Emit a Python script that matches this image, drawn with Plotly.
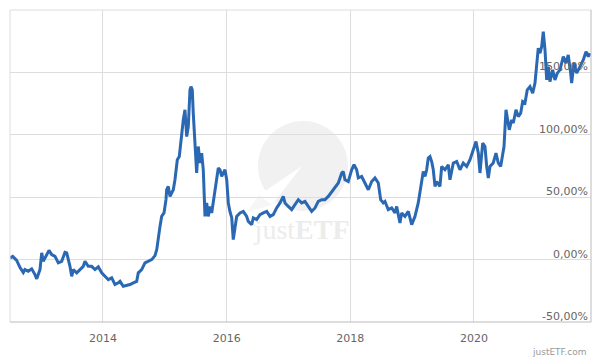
import plotly.graph_objects as go

# decimal years
years = [
    2012.496, 2012.540, 2012.604, 2012.658, 2012.711, 2012.738, 2012.792, 2012.847, 2012.900, 2012.928,
    2012.981, 2013.009, 2013.034, 2013.089, 2013.127, 2013.170, 2013.224, 2013.277, 2013.332, 2013.385,
    2013.413, 2013.466, 2013.494, 2013.520, 2013.575, 2013.628, 2013.681, 2013.709, 2013.762, 2013.817,
    2013.871, 2013.924, 2013.979, 2014.032, 2014.086, 2014.141, 2014.194, 2014.247, 2014.275, 2014.328,
    2014.383, 2014.437, 2014.490, 2014.545, 2014.571, 2014.626, 2014.679, 2014.733, 2014.788, 2014.841,
    2014.869, 2014.922, 2014.949, 2014.987, 2015.019, 2015.030, 2015.056, 2015.084, 2015.111, 2015.137,
    2015.164, 2015.202, 2015.234, 2015.273, 2015.299, 2015.326, 2015.354, 2015.380, 2015.407, 2015.423,
    2015.444, 2015.460, 2015.488, 2015.515, 2015.541, 2015.569, 2015.596, 2015.622, 2015.650, 2015.677,
    2015.703, 2015.731, 2015.758, 2015.784, 2015.811, 2015.839, 2015.865, 2015.892, 2015.920, 2015.946,
    2015.973, 2016.001, 2016.027, 2016.054, 2016.082, 2016.107, 2016.135, 2016.162, 2016.216, 2016.269,
    2016.324, 2016.350, 2016.405, 2016.431, 2016.486, 2016.539, 2016.593, 2016.648, 2016.701, 2016.754,
    2016.809, 2016.863, 2016.916, 2016.944, 2016.997, 2017.052, 2017.105, 2017.159, 2017.214, 2017.267,
    2017.320, 2017.375, 2017.429, 2017.482, 2017.537, 2017.590, 2017.644, 2017.699, 2017.752, 2017.806,
    2017.861, 2017.886, 2017.914, 2017.967, 2018.022, 2018.060, 2018.103, 2018.129, 2018.184, 2018.237,
    2018.291, 2018.346, 2018.399, 2018.453, 2018.491, 2018.533, 2018.561, 2018.614, 2018.669, 2018.723,
    2018.750, 2018.803, 2018.831, 2018.884, 2018.938, 2018.993, 2019.046, 2019.099, 2019.154, 2019.180,
    2019.208, 2019.235, 2019.261, 2019.289, 2019.316, 2019.342, 2019.370, 2019.397, 2019.450, 2019.478,
    2019.531, 2019.585, 2019.612, 2019.666, 2019.721, 2019.774, 2019.827, 2019.882, 2019.936, 2019.989,
    2020.033, 2020.070, 2020.097, 2020.141, 2020.178, 2020.206, 2020.232, 2020.259, 2020.312, 2020.356,
    2020.393, 2020.432, 2020.464, 2020.486, 2020.518, 2020.539, 2020.571, 2020.610, 2020.636, 2020.680,
    2020.717, 2020.756, 2020.788, 2020.825, 2020.862, 2020.906, 2020.950, 2020.987, 2021.014, 2021.040,
    2021.068, 2021.095, 2021.121, 2021.149, 2021.176, 2021.202, 2021.229, 2021.273, 2021.310, 2021.348,
    2021.391, 2021.445, 2021.488, 2021.525, 2021.564, 2021.580, 2021.618, 2021.661, 2021.715, 2021.768,
    2021.812, 2021.849, 2021.876,
]

# cumulative performance in percent
performance = [
    1.4, 2.6, -0.6, -6.4, -10.4, -8.0, -9.4, -7.4, -12.0, -15.4,
    -8.0, 5.4, -1.4, 4.0, 7.4, 4.0, 2.6, -2.6, -1.4, 5.8,
    5.4, -5.4, -13.4, -8.0, -10.6, -8.0, -5.4, -1.4, -5.4, -5.4,
    -8.0, -5.8, -10.6, -13.4, -16.0, -14.6, -20.0, -18.6, -17.4, -21.4,
    -20.8, -20.0, -18.6, -17.4, -10.6, -8.0, -2.6, -1.4, 0.0, 3.2,
    8.0, 26.6, 34.6, 37.4, 48.0, 56.0, 58.6, 50.6, 53.4, 56.0,
    64.0, 80.0, 82.6, 104.0, 112.0, 120.0, 98.6, 106.6, 136.0, 138.6,
    136.0, 117.4, 96.0, 69.4, 90.6, 77.4, 85.4, 72.0, 34.6, 45.4,
    34.6, 42.6, 37.4, 45.4, 56.0, 64.0, 73.4, 72.0, 66.6, 69.4,
    72.0, 64.0, 45.4, 38.4, 33.6, 16.0, 26.6, 34.6, 37.4, 38.6,
    34.6, 30.6, 28.0, 33.4, 32.0, 36.0, 37.4, 38.6, 34.6, 36.0,
    41.4, 45.4, 50.6, 45.4, 42.6, 40.0, 44.0, 48.0, 45.4, 46.6,
    42.6, 38.6, 41.4, 46.6, 48.0, 48.0, 50.6, 54.6, 57.4, 61.4,
    69.4, 70.6, 64.0, 62.6, 72.0, 76.0, 72.0, 65.4, 66.6, 61.4,
    56.0, 62.6, 65.4, 61.4, 48.0, 45.4, 46.6, 40.0, 41.4, 37.4,
    42.6, 29.4, 37.4, 34.6, 38.6, 28.0, 34.6, 45.4, 61.4, 70.6,
    66.6, 72.0, 81.4, 82.6, 78.6, 72.0, 58.6, 62.6, 58.6, 74.6,
    72.0, 76.0, 64.0, 77.4, 78.6, 72.0, 77.4, 74.6, 80.0, 88.0,
    94.6, 85.4, 69.4, 93.4, 90.6, 74.6, 65.4, 74.6, 77.4, 85.4,
    77.4, 74.6, 82.6, 90.6, 120.0, 112.0, 104.0, 112.0, 109.4, 120.0,
    114.6, 117.4, 126.6, 125.4, 136.0, 138.6, 133.4, 141.4, 157.4, 169.4,
    165.4, 170.6, 182.6, 168.0, 144.0, 154.6, 142.6, 152.0, 144.0, 149.4,
    152.0, 162.6, 157.4, 164.0, 149.4, 141.4, 157.4, 149.4, 154.6, 160.0,
    166.6, 162.6, 165.4,
]

x_ticks = [2014, 2016, 2018, 2020]
x_tick_labels = ["2014", "2016", "2018", "2020"]
y_ticks = [-50, 0, 50, 100, 150]
y_tick_labels = ["-50,00%", "0,00%", "50,00%", "100,00%", "150,00%"]

X0, X1 = 2012.496, 2021.893
Y0, Y1 = -50, 200

# page body has an 8px margin; the figure is sized so the plot area lands at
# page pixels x 10..591, y 10..322
OFF = 8
ML, MT, MR, MB = 10 - OFF, 10 - OFF, 9, 38
PW, PH = 581, 312
FIG_W, FIG_H = ML + PW + MR, MT + PH + MB

fig = go.Figure()

# watermark text (drawn first so the line passes above it)
fig.add_trace(go.Scatter(
    x=[2017.22], y=[22], mode="text", text=["just<b>ETF</b>"],
    textfont=dict(family="Liberation Serif, DejaVu Serif, serif", size=28, color="#ececec"),
    hoverinfo="skip", showlegend=False,
))

fig.add_trace(go.Scatter(
    x=years, y=performance, mode="lines",
    line=dict(color="#2a68b3", width=3),
    hoverinfo="skip", showlegend=False,
))

def px_to_paper(px, py):
    return (px - 10) / float(PW), (322 - py) / float(PH)

shapes = []
# watermark circle
cx0, cy0 = px_to_paper(258, 121)
cx1, cy1 = px_to_paper(348, 211)
shapes.append(dict(type="circle", xref="paper", yref="paper", x0=cx0, y0=cy1, x1=cx1, y1=cy0,
                   fillcolor="#f1f1f1", line=dict(width=0), layer="below"))
# arrow wedge
pts = [px_to_paper(302, 166), px_to_paper(259, 195), px_to_paper(272, 205)]
path = "M {:.4f} {:.4f} L {:.4f} {:.4f} L {:.4f} {:.4f} Z".format(*pts[0], *pts[1], *pts[2])
shapes.append(dict(type="path", xref="paper", yref="paper", path=path,
                   fillcolor="#ffffff", line=dict(width=0), layer="below"))
tail = [px_to_paper(259, 195), px_to_paper(247, 212), px_to_paper(272, 205)]
path2 = "M {:.4f} {:.4f} L {:.4f} {:.4f} L {:.4f} {:.4f} Z".format(*tail[0], *tail[1], *tail[2])
shapes.append(dict(type="path", xref="paper", yref="paper", path=path2,
                   fillcolor="#f6f6f6", line=dict(width=0), layer="below"))
# borders
shapes.append(dict(type="line", xref="paper", yref="paper", x0=0, x1=1, y0=1, y1=1,
                   line=dict(color="#dddddd", width=1)))
shapes.append(dict(type="line", xref="paper", yref="paper", x0=0, x1=0, y0=0, y1=1,
                   line=dict(color="#dddddd", width=1)))
shapes.append(dict(type="line", xref="paper", yref="paper", x0=1, x1=1, y0=0, y1=1,
                   line=dict(color="#bbbbbb", width=1)))
shapes.append(dict(type="line", xref="paper", yref="paper", x0=0, x1=1, y0=0, y1=0,
                   line=dict(color="#bbbbbb", width=1)))

annotations = [dict(
    text=lab, xref="paper", yref="y", x=1, y=val, xshift=-1, yshift=-3,
    xanchor="right", yanchor="bottom", showarrow=False,
    font=dict(family="DejaVu Sans", size=11, color="#666666"),
) for val, lab in zip(y_ticks, y_tick_labels)]
annotations.append(dict(
    text="justETF.com", xref="paper", yref="paper", x=0.995, y=-0.096,
    xanchor="right", yanchor="middle", showarrow=False,
    font=dict(family="DejaVu Sans", size=9, color="#999999"),
))

fig.update_layout(
    width=FIG_W, height=FIG_H, autosize=False,
    margin=dict(l=ML, r=MR, t=MT, b=MB, autoexpand=False),
    paper_bgcolor="white", plot_bgcolor="white",
    font=dict(family="DejaVu Sans", size=11, color="#666666"),
    shapes=shapes,
    xaxis=dict(
        range=[X0, X1], tickvals=x_ticks, ticktext=x_tick_labels,
        showgrid=True, gridcolor="#dddddd", gridwidth=1, automargin=False,
        zeroline=False, showline=False, ticks="", ticklabelstandoff=8,
        tickfont=dict(family="DejaVu Sans", size=11, color="#666666"),
    ),
    yaxis=dict(
        range=[Y0, Y1], tickvals=y_ticks, showticklabels=False,
        side="right", automargin=False,
        showgrid=True, gridcolor="#dddddd", gridwidth=1,
        zeroline=False, showline=False, ticks="",
    ),
    annotations=annotations,
)

fig.write_html("out.html")
